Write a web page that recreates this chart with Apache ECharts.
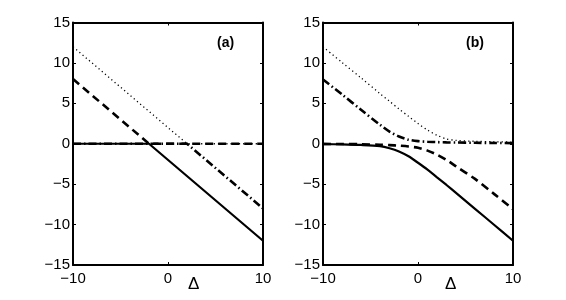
<!DOCTYPE html>
<html>
<head>
<meta charset="utf-8">
<script src="https://cdn.jsdelivr.net/npm/echarts@6/dist/echarts.min.js"></script>
<style>html,body{margin:0;padding:0;background:#fff;}#c{width:566px;height:300px;}</style>
</head>
<body>
<div id="c"></div>
<script>
// ---- data ----
var xTicks = [-10, 0, 10];
var yTicks = [-15, -10, -5, 0, 5, 10, 15];
var panelLabels = ['(a)', '(b)'];
var xName = 'Δ';

// panel (a): piecewise straight curves [x, y]
var aSolid   = [[-10, 0], [-2, 0], [10, -12]];
var aDashed  = [[-10, 8], [-2, 0], [10, 0]];
var aDashDot = [[-10, 0], [2, 0], [10, -8]];
var aDotted  = [[-10, 12], [2, 0], [10, 0]];

// panel (b): smooth curves sampled at xB
var xB       = [-10, -8, -6, -4, -3, -2, -1, 0, 1, 2, 3, 4, 6, 8, 10];
var bSolid   = [-0.05, -0.08, -0.15, -0.3, -0.55, -0.95, -1.55, -2.35, -3.2, -4.15, -5.1, -6.08, -8.05, -10.02, -12];
var bDashed  = [-0.02, -0.03, -0.06, -0.12, -0.17, -0.24, -0.34, -0.5, -0.85, -1.35, -2.0, -2.8, -4.35, -6.2, -8.1];
var bDashDot = [7.95, 6.1, 4.2, 2.35, 1.5, 0.9, 0.5, 0.32, 0.25, 0.2, 0.17, 0.15, 0.12, 0.1, 0.08];
var bDotted  = [12.0, 10.05, 8.15, 6.2, 5.25, 4.3, 3.4, 2.5, 1.7, 1.05, 0.6, 0.42, 0.3, 0.25, 0.2];

function zipXY(xs, ys) { return xs.map(function (x, i) { return [x, ys[i]]; }); }

var FONT = '"Liberation Sans", Arial, Helvetica, sans-serif';
var grids = [
  {left: 73, top: 22.5, width: 190, height: 242.5},
  {left: 323, top: 22.5, width: 190, height: 242.5}
];

function fmt(v) { return (v < 0 ? '\u2212' + Math.abs(v) : String(v)); }

var xAxes = [], yAxes = [];
[0, 1].forEach(function (g) {
  xAxes.push({
    type: 'value', gridIndex: g, min: xTicks[0], max: xTicks[xTicks.length - 1], interval: 10,
    position: 'bottom',
    axisLine: {show: true, onZero: false, lineStyle: {color: '#000', width: 2}},
    axisTick: {show: true, inside: true, length: 3, lineStyle: {color: '#000', width: 1}},
    axisLabel: {show: true, margin: 6, color: '#000', fontSize: 15, fontFamily: FONT, formatter: fmt},
    splitLine: {show: false}
  });
  xAxes.push({
    type: 'value', gridIndex: g, min: xTicks[0], max: xTicks[xTicks.length - 1], interval: 10,
    position: 'top',
    axisLine: {show: true, onZero: false, lineStyle: {color: '#000', width: 2}},
    axisTick: {show: true, inside: true, length: 3, lineStyle: {color: '#000', width: 1}},
    axisLabel: {show: false}, splitLine: {show: false}
  });
  yAxes.push({
    type: 'value', gridIndex: g, min: yTicks[0], max: yTicks[yTicks.length - 1], interval: 5,
    position: 'left',
    axisLine: {show: true, onZero: false, lineStyle: {color: '#000', width: 2}},
    axisTick: {show: true, inside: true, length: 3, lineStyle: {color: '#000', width: 1}},
    axisLabel: {show: true, margin: 3, color: '#000', fontSize: 15, fontFamily: FONT, formatter: fmt},
    splitLine: {show: false}
  });
  yAxes.push({
    type: 'value', gridIndex: g, min: yTicks[0], max: yTicks[yTicks.length - 1], interval: 5,
    position: 'right',
    axisLine: {show: true, onZero: false, lineStyle: {color: '#000', width: 2}},
    axisTick: {show: true, inside: true, length: 3, lineStyle: {color: '#000', width: 1}},
    axisLabel: {show: false}, splitLine: {show: false}
  });
});

var styles = {
  dotted:  {color: '#000', width: 1.3, type: [1.2, 3]},
  dashed:  {color: '#000', width: 2.6, type: [8, 5]},
  dashdot: {color: '#000', width: 2.6, type: [8, 3, 1.5, 3]},
  solid:   {color: '#000', width: 2.2, type: 'solid'}
};

function mk(data, g, st, smooth) {
  return {
    type: 'line', xAxisIndex: g * 2, yAxisIndex: g * 2, data: data,
    showSymbol: false, symbol: 'none', smooth: smooth ? 0.3 : false,
    lineStyle: st, silent: true, animation: false
  };
}

var series = [
  mk(aDotted, 0, styles.dotted),
  mk(aDashed, 0, styles.dashed),
  mk(aDashDot, 0, styles.dashdot),
  mk(aSolid, 0, styles.solid),
  mk(zipXY(xB, bDotted), 1, styles.dotted, true),
  mk(zipXY(xB, bDashDot), 1, styles.dashdot, true),
  mk(zipXY(xB, bDashed), 1, styles.dashed, true),
  mk(zipXY(xB, bSolid), 1, styles.solid, true)
];

var chart = echarts.init(document.getElementById('c'), null, {renderer: 'canvas'});
chart.setOption({
  animation: false,
  backgroundColor: '#fff',
  grid: grids,
  xAxis: xAxes,
  yAxis: yAxes,
  series: series,
  graphic: [
    {type: 'text', left: 217, top: 36, style: {text: panelLabels[0], font: 'bold 14px ' + FONT, fill: '#000'}},
    {type: 'text', left: 466, top: 36, style: {text: panelLabels[1], font: 'bold 14px ' + FONT, fill: '#000'}},
    {type: 'text', left: 188, top: 276, style: {text: xName, font: '17px ' + FONT, fill: '#000'}},
    {type: 'text', left: 445, top: 276, style: {text: xName, font: '17px ' + FONT, fill: '#000'}}
  ]
});
</script>
</body>
</html>
